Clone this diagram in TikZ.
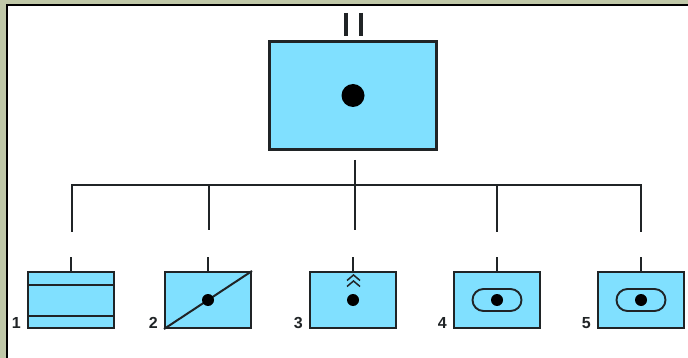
\documentclass[tikz,border=0pt]{standalone}
\usepackage{fontspec}
\setmainfont{Liberation Sans}
\usetikzlibrary{positioning,shapes.misc}
\definecolor{paneblue}{RGB}{128,224,255}
\definecolor{rimolive}{RGB}{192,200,168}
\definecolor{inkgrey}{RGB}{32,36,38}
\tikzset{
  panel/.style={draw=inkgrey,fill=paneblue,line width=2pt,minimum width=86pt,minimum height=56pt,inner sep=0pt},
  bigpanel/.style={draw=inkgrey,fill=paneblue,line width=3pt,minimum width=167pt,minimum height=108pt,inner sep=0pt},
  dotmark/.style={circle,fill=black,inner sep=0pt,minimum size=#1},
  numlabel/.style={font=\bfseries\fontsize{16}{16}\selectfont,inner sep=0pt,text=inkgrey},
  wire/.style={draw=inkgrey,line width=2.1pt},
  tick/.style={draw=inkgrey,line width=2pt},
  pill/.style={draw=inkgrey,line width=1.9pt,rounded rectangle,minimum width=49pt,minimum height=22pt,inner sep=0pt}
}
\begin{document}
\begin{tikzpicture}[x=1pt,y=-1pt]
  \useasboundingbox (0,0) rectangle (688,358);
  \fill[rimolive] (0,0) rectangle (688,358);
  \fill[black] (6,4) rectangle (688,358);
  \fill[white] (8,6) rectangle (688,358);

  \node[bigpanel] (top) at (353,95.5) {};
  \node[dotmark=23pt] (topdot) at (top.center) {};
  \coordinate (topa) at (346,13);
  \coordinate (topb) at (361,13);
  \draw[wire,line width=3.6pt] (topa) -- ++(0,23);
  \draw[wire,line width=3.6pt] (topb) -- ++(0,23);

  \foreach \n/\x in {1/71,2/208,3/353,4/497,5/641} {
    \node[panel] (p\n) at (\x,300) {};
    \node[numlabel,anchor=south east] (l\n) at ([xshift=-6pt,yshift=0.5pt]p\n.south west) {\n};
    \coordinate (t\n) at (\x,257);
    \draw[tick] (t\n) -- (p\n.north);
  }

  % the tree
  \coordinate (root) at (355,160);
  \coordinate (rail) at (355,185);
  \coordinate (s1) at (72,232);
  \coordinate (s2) at (209,230);
  \coordinate (s3) at (355,230);
  \coordinate (s4) at (497,232);
  \coordinate (s5) at (641,232);
  \draw[wire] (s1) |- (rail) -- (s5 |- rail) -- (s5);
  \draw[wire] (root) -- (s3);
  \draw[wire] (s2) -- (s2 |- rail);
  \draw[wire] (s4) -- (s4 |- rail);

  % panel 1
  \draw[tick] (p1.west |- 0,285) -- (p1.east |- 0,285);
  \draw[tick] (p1.west |- 0,315.5) -- (p1.east |- 0,315.5);
  % panel 2
  \draw[tick] (p2.south west) -- (p2.north east);
  \node[dotmark=12pt] (d2) at (p2.center) {};
  % panel 3
  \node[dotmark=12pt] (d3) at (p3.center) {};
  \draw[inkgrey,line width=1.5pt] (347,280.5) -- (353.5,275) -- (360,280.5);
  \draw[inkgrey,line width=1.5pt] (347,286.5) -- (353.5,281) -- (360,286.5);
  % panel 4 and 5
  \foreach \n in {4,5} {
    \node[pill] (o\n) at (p\n.center) {};
    \node[dotmark=12pt] (d\n) at (p\n.center) {};
  }
\end{tikzpicture}
\end{document}
